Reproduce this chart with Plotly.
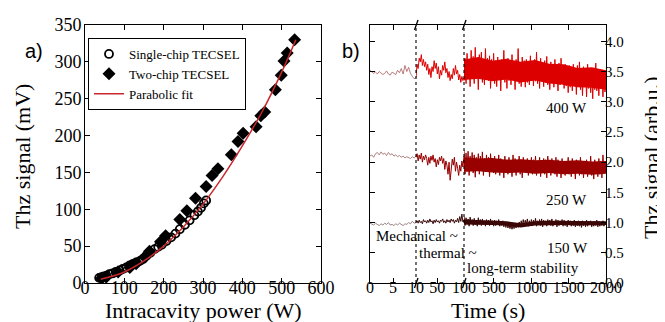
import numpy as np
import plotly.graph_objects as go

# ---------------- data: panel a) ----------------
single_x = [36, 42, 48, 55, 62, 70, 78, 88, 96, 105, 114, 122, 130, 140, 148, 156,
            166, 177, 186, 195, 207, 219, 230, 241, 254, 266, 278, 287, 295, 302, 308]
single_y = [7, 8, 9, 10, 12, 13, 15, 17, 19, 21, 24, 26, 28, 30, 33, 37,
            41, 46, 49, 52, 57, 62, 67, 73, 79, 85, 92, 97, 102, 108, 112]

two_x = [42, 54, 84, 114, 130, 152, 164, 192, 205, 241, 259, 281, 308, 323, 338,
         372, 389, 402, 435, 447, 457, 484, 499, 506, 514, 533]
two_y = [6, 8, 15, 21, 26, 35, 43, 56, 64, 86, 98, 115, 131, 146, 155,
         174, 192, 203, 212, 227, 232, 262, 282, 301, 312, 330]

fit_x = [40, 100, 150, 200, 250, 300, 350, 400, 450, 500, 536]
fit_y = [5, 15, 30, 50, 76, 107, 144, 186, 232, 286, 330]

# ---------------- data: panel b) ----------------
# segment 1: 0-10 s, segment 2: 10-100 s, segment 3: 100-2000 s
p400_s1 = [3.52, 3.50, 3.47, 3.49, 3.46, 3.50, 3.48, 3.45, 3.47, 3.51, 3.46, 3.44, 3.49,
           3.47, 3.45, 3.52, 3.48, 3.55, 3.46, 3.60, 3.50, 3.57, 3.47, 3.42, 3.38, 3.40]
p400_s2 = [3.40, 3.62, 3.55, 3.72, 3.66, 3.78, 3.60, 3.70, 3.58, 3.66, 3.52, 3.62, 3.45,
           3.55, 3.40, 3.58, 3.50, 3.68, 3.55, 3.64, 3.46, 3.58, 3.38, 3.52, 3.44, 3.60,
           3.52, 3.66, 3.48, 3.55, 3.40, 3.50, 3.35, 3.45, 3.38, 3.55, 3.44, 3.60, 3.46,
           3.52, 3.36, 3.45, 3.32, 3.42, 3.35, 3.40]
p400_s3 = [3.35, 3.72, 3.30, 3.80, 3.40, 3.68, 3.25, 3.85, 3.42, 3.75, 3.30, 3.90, 3.38,
           3.70, 3.20, 3.78, 3.45, 3.82, 3.32, 3.66, 3.28, 3.88, 3.40, 3.72, 3.35, 3.76,
           3.22, 3.70, 3.38, 3.80,
           3.30, 3.68, 3.25, 3.74, 3.36, 3.62, 3.18, 3.70, 3.40, 3.85, 3.32, 3.65, 3.22,
           3.72, 3.35, 3.60, 3.28, 3.78, 3.40, 3.66, 3.20, 3.70, 3.34, 3.88, 3.30, 3.62,
           3.25, 3.74, 3.38, 3.68, 3.24, 3.70, 3.32, 3.60, 3.28, 3.76, 3.36,
           3.62, 3.26, 3.70, 3.34, 3.82, 3.30, 3.64, 3.22, 3.72, 3.38, 3.60, 3.25, 3.68,
           3.32, 3.75, 3.28, 3.58, 3.20, 3.66, 3.35, 3.62, 3.24, 3.70, 3.30, 3.56, 3.18,
           3.64, 3.28, 3.72, 3.32, 3.58, 3.22, 3.62, 3.26, 3.55, 3.15, 3.60,
           3.24, 3.58, 3.18, 3.62, 3.28, 3.54, 3.12, 3.60, 3.25, 3.66, 3.20, 3.52, 3.10,
           3.58, 3.26, 3.50, 3.08, 3.62, 3.22, 3.55, 3.15, 3.48, 3.05, 3.56, 3.20, 3.64,
           3.18, 3.50, 3.10, 3.54, 3.24, 3.46, 3.08, 3.52, 3.16, 3.40]

p250_s1 = [2.10, 2.12, 2.08, 2.14, 2.16, 2.12, 2.17, 2.13, 2.15, 2.11, 2.16, 2.12, 2.14,
           2.10, 2.12, 2.09, 2.11, 2.08, 2.10, 2.07, 2.09, 2.08, 2.06, 2.09, 2.07, 2.10]
p250_s2 = [2.08, 2.14, 2.02, 2.12, 2.05, 2.15, 2.00, 2.10, 2.04, 2.12, 2.06, 1.95, 2.08,
           1.98, 2.10, 2.03, 2.12, 2.00, 2.06, 1.92, 2.04, 1.96, 2.08, 2.02, 2.10, 1.98,
           2.06, 1.88, 2.02, 1.95, 1.80, 2.00, 1.70, 1.92, 2.05, 1.95, 2.08, 1.85, 2.00,
           1.90, 1.78, 1.95, 1.85, 2.02, 1.92, 2.10]
p250_s3 = [2.20, 1.80, 2.15, 1.85, 2.18, 1.78, 2.10, 1.90, 2.16, 1.82, 2.12, 1.75, 2.08,
           1.88, 2.14, 1.80, 2.10, 1.86, 2.17, 1.78, 2.06, 1.84, 2.12, 1.90, 2.08, 1.76,
           2.14, 1.86, 2.05, 1.82,
           2.10, 1.80, 2.02, 1.88, 2.12, 1.78, 2.06, 1.84, 2.00, 1.74, 2.10, 1.86, 2.04,
           1.80, 2.08, 1.90, 2.02, 1.76, 2.12, 1.84, 2.06, 1.78, 2.00, 1.86, 2.10, 1.80,
           2.04, 1.74, 2.08, 1.88, 2.02, 1.82, 2.06, 1.78, 2.00, 1.85, 2.08,
           1.80, 2.04, 1.86, 2.10, 1.78, 2.02, 1.84, 2.08, 1.76, 2.00, 1.88, 2.06, 1.80,
           2.04, 1.74, 2.10, 1.84, 2.02, 1.78, 2.06, 1.86, 2.00, 1.80, 2.08, 1.76, 2.04,
           1.82, 1.98, 1.74, 2.06, 1.84, 2.02, 1.78, 2.00, 1.86, 2.08, 1.80,
           2.02, 1.76, 2.06, 1.82, 1.98, 1.72, 2.04, 1.84, 2.00, 1.78, 2.08, 1.80, 1.96,
           1.74, 2.02, 1.86, 2.04, 1.76, 1.98, 1.82, 2.10, 1.78, 2.00, 1.72, 2.04, 1.84,
           1.96, 1.76, 2.06, 1.80, 2.02, 1.74, 2.12, 1.82, 1.98, 1.90]

p150_s1 = [0.99, 0.98, 0.96, 0.99, 0.97, 0.95, 0.98, 0.96, 0.99, 0.97, 1.00, 0.96, 0.97,
           0.95, 0.98, 0.96, 0.99, 0.97, 0.95, 0.98, 0.97, 1.00, 0.98, 1.02, 0.99, 1.00]
p150_s2 = [1.00, 1.03, 0.99, 1.04, 1.00, 1.02, 0.98, 1.05, 1.01, 1.03, 0.99, 1.04, 1.00,
           1.06, 1.01, 1.03, 0.98, 1.04, 1.00, 1.05, 1.01, 1.03, 0.99, 1.04, 1.02, 1.06,
           1.00, 1.03, 0.99, 1.05, 1.01, 1.04, 1.00, 1.06, 1.02, 1.05, 0.99, 1.04, 1.01,
           1.07, 1.00, 1.10, 1.02, 1.14, 1.01, 1.05]
p150_s3 = [1.10, 0.95, 1.08, 0.97, 1.06, 0.94, 1.09, 0.98, 1.05, 0.95, 1.07, 0.96, 1.04,
           0.94, 1.08, 0.97, 1.05, 0.95, 1.06, 0.96, 1.03, 0.94, 1.05, 0.97, 1.04, 0.95,
           1.06, 0.96, 1.03, 0.94,
           1.04, 0.95, 1.03, 0.96, 1.05, 0.94, 1.02, 0.95, 1.03, 0.93, 1.01, 0.92, 1.00,
           0.91, 0.98, 0.90, 0.97, 0.89, 0.97, 0.90, 0.98, 0.91, 0.99, 0.92, 1.01, 0.93,
           1.03, 0.94, 1.05, 0.95, 1.04, 0.96, 1.06, 0.94, 1.03, 0.95, 1.05,
           0.95, 1.04, 0.96, 1.07, 0.94, 1.03, 0.97, 1.05, 0.95, 1.06, 0.93, 1.04, 0.96,
           1.03, 0.94, 1.05, 0.97, 1.04, 0.95, 1.06, 0.94, 1.02, 0.96, 1.05, 0.93, 1.04,
           0.95, 1.03, 0.96, 1.05, 0.94, 1.04, 0.95, 1.02, 0.93, 1.04, 0.96,
           1.03, 0.94, 1.02, 0.95, 1.04, 0.93, 1.01, 0.95, 1.03, 0.94, 1.02, 0.92, 1.03,
           0.95, 1.01, 0.93, 1.04, 0.94, 1.02, 0.96, 1.03, 0.93, 1.01, 0.94, 1.02, 0.95,
           1.04, 0.93, 1.02, 0.94, 1.01, 0.95, 1.03, 0.94, 1.00, 0.97]

# dense core of each long-term band (100-2000 s), read at 11 evenly spaced times
p400_core_hi = [3.70, 3.74, 3.68, 3.71, 3.66, 3.69, 3.63, 3.62, 3.56, 3.57, 3.52]
p400_core_lo = [3.36, 3.38, 3.34, 3.37, 3.32, 3.35, 3.30, 3.28, 3.24, 3.23, 3.20]
p250_core_hi = [2.08, 2.06, 2.07, 2.04, 2.05, 2.03, 2.04, 2.02, 2.03, 2.01, 2.02]
p250_core_lo = [1.84, 1.85, 1.83, 1.82, 1.83, 1.81, 1.82, 1.80, 1.81, 1.79, 1.81]
p150_core_hi = [1.05, 1.04, 1.03, 1.02, 0.99, 1.02, 1.03, 1.03, 1.02, 1.02, 1.02]
p150_core_lo = [0.97, 0.97, 0.96, 0.95, 0.92, 0.95, 0.96, 0.96, 0.95, 0.95, 0.96]

seg_ranges = [(0, 10), (10, 100), (100, 2000)]
series = [
    ("400 W", [p400_s1, p400_s2, p400_s3], ["#a85a5a", "#dd0000", "#dd0000"],
     p400_core_hi, p400_core_lo),
    ("250 W", [p250_s1, p250_s2, p250_s3], ["#9a6464", "#990000", "#990000"],
     p250_core_hi, p250_core_lo),
    ("150 W", [p150_s1, p150_s2, p150_s3], ["#806464", "#3a0606", "#3a0606"],
     p150_core_hi, p150_core_lo),
]

W, H = 665, 322
def px(x):
    return x / W
def py(y):
    return 1 - y / H

SERIF = "Times New Roman, Liberation Serif, serif"
SANS = "Arial, Liberation Sans, sans-serif"

fig = go.Figure()

# panel a)
fig.add_trace(go.Scatter(x=single_x, y=single_y, mode="markers", name="Single-chip TECSEL",
                         marker=dict(symbol="circle-open", size=8, color="black",
                                     line=dict(width=1.8, color="black")),
                         xaxis="x", yaxis="y"))
fig.add_trace(go.Scatter(x=two_x, y=two_y, mode="markers", name="Two-chip TECSEL",
                         marker=dict(symbol="diamond", size=10, color="black"),
                         xaxis="x", yaxis="y"))
fig.add_trace(go.Scatter(x=fit_x, y=fit_y, mode="lines", name="Parabolic fit",
                         line=dict(color="#c8282c", width=1.5, shape="spline"),
                         xaxis="x", yaxis="y"))

# panel b)
seg_axes = ["x2", "x3", "x4"]
for label, segs, cols, hi, lo in series:
    tc = np.linspace(100, 2000, len(hi))
    fig.add_trace(go.Scatter(x=tc, y=lo, mode="lines", line=dict(width=0, color=cols[2]),
                             showlegend=False, xaxis="x4", yaxis="y2", hoverinfo="skip"))
    fig.add_trace(go.Scatter(x=tc, y=hi, mode="lines", line=dict(width=0, color=cols[2]),
                             fill="tonexty", fillcolor=cols[2], showlegend=False,
                             xaxis="x4", yaxis="y2", hoverinfo="skip"))
    for i, vals in enumerate(segs):
        t0, t1 = seg_ranges[i]
        t = np.linspace(t0, t1, len(vals))
        fig.add_trace(go.Scatter(x=t, y=vals, mode="lines", showlegend=False,
                                 line=dict(color=cols[i], width=0.8 if i == 0 else 1.0),
                                 xaxis=seg_axes[i], yaxis="y2", hoverinfo="skip"))
fig.add_trace(go.Scatter(x=[None], y=[None], xaxis="x2", yaxis="y3", showlegend=False))

def axis_common(size, standoff):
    return dict(showgrid=False, zeroline=False, showline=True, linecolor="black",
                linewidth=1, ticks="inside", ticklen=5, tickcolor="black", tickangle=0,
                tickfont=dict(family=SERIF, size=size, color="black"),
                ticklabelstandoff=standoff, automargin=False)

ydom = [py(275), py(17)]
layout = dict(
    width=W, height=H, margin=dict(l=0, r=0, t=0, b=0),
    paper_bgcolor="white", plot_bgcolor="white",
    font=dict(family=SERIF, color="black"),
    xaxis=dict(domain=[px(77), px(313)], range=[0, 600], tickvals=[0, 100, 200, 300, 400, 500, 600],
               anchor="y", mirror="ticks", **axis_common(18, -12)),
    yaxis=dict(domain=ydom, range=[0, 350], tickvals=list(range(0, 351, 50)), anchor="x",
               mirror="ticks", **axis_common(18, -1)),
    xaxis2=dict(domain=[px(362), px(408)], range=[0, 10], tickvals=[0, 5, 10], anchor="y2",
                mirror="ticks", **axis_common(16, -10)),
    xaxis3=dict(domain=[px(408), px(456)], range=[10, 100], tickvals=[50], anchor="y2",
                mirror="ticks", **axis_common(16, -10)),
    xaxis4=dict(domain=[px(456), px(598)], range=[100, 2000],
                tickvals=[100, 500, 1000, 1500, 2000], anchor="y2", mirror="ticks",
                **axis_common(16, -10)),
    yaxis2=dict(domain=ydom, range=[0, 4.27], tickvals=[0, 0.5, 1, 1.5, 2, 2.5, 3, 3.5, 4],
                tickformat=".1f", anchor="x4", side="right", **axis_common(15, -5)),
    yaxis3=dict(domain=ydom, range=[0, 4.27], tickvals=[0, 0.5, 1, 1.5, 2, 2.5, 3, 3.5, 4],
                anchor="x2", side="left", overlaying="y2", showticklabels=False,
                **axis_common(15, 0)),
    legend=dict(x=px(80), y=py(30), xanchor="left", yanchor="top",
                bordercolor="black", borderwidth=1, bgcolor="white",
                font=dict(family=SERIF, size=13, color="black"),
                traceorder="normal", tracegroupgap=0, itemwidth=30),
    showlegend=True,
)

shapes = []
for bx in (408, 456):
    shapes.append(dict(type="line", xref="paper", yref="paper", x0=px(bx), x1=px(bx),
                       y0=py(275), y1=py(17), line=dict(color="black", width=1.1, dash="dot")))
    for by in (17, 275):
        shapes.append(dict(type="line", xref="paper", yref="paper",
                           x0=px(bx - 1.5), x1=px(bx + 2), y0=py(by + 5), y1=py(by - 5),
                           line=dict(color="black", width=1.3)))
layout["shapes"] = shapes

def ann(text, x, y, size=15, family=SERIF, xanchor="center", angle=0):
    return dict(text=text, x=px(x), y=py(y), xref="paper", yref="paper", showarrow=False,
                xanchor=xanchor, yanchor="middle", textangle=angle,
                font=dict(family=family, size=size, color="black"))

layout["annotations"] = [
    ann("a)", 26, 43, size=20, family=SANS),
    ann("b)", 343, 43, size=20, family=SANS),
    ann("400 W", 558, 100),
    ann("250 W", 558, 192),
    ann("150 W", 559, 240),
    ann("Mechanical ~", 366, 228, xanchor="left"),
    ann("thermal ~", 409, 245, xanchor="left"),
    ann("long-term stability", 457, 260, xanchor="left"),
    ann("Intracavity power (W)", 195, 302, size=22),
    ann("Time (s)", 480, 302, size=22),
    ann("Thz signal (mV)", 15, 149, size=22, angle=-90),
    ann("Thz signal (arb.u.)", 643, 150, size=22, angle=-90),
]

fig.update_layout(**layout)
fig.write_html("out.html")
